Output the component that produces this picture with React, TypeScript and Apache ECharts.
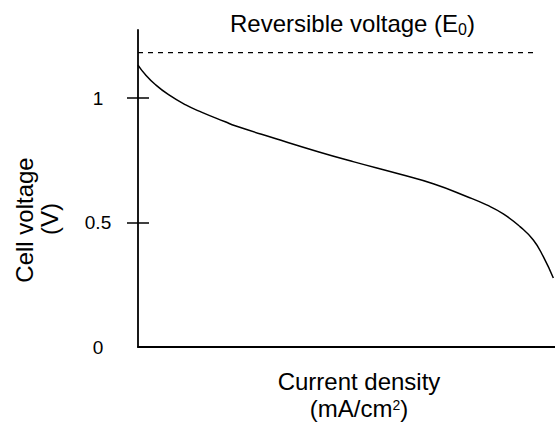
import React, { useEffect, useRef } from "react";
import * as echarts from "echarts";

// Polarization curve (x in % of axis span, y in volts)
const currentDensity = [0, 1.75, 4.15, 7.33, 11.33, 15.34, 20.92, 23.3, 32.9, 43.4, 51.8, 62.9, 70.8, 78.8, 83.6, 87.6, 91.6, 94.8, 97.2, 99.6];
const cellVoltage = [1.133, 1.095, 1.055, 1.014, 0.974, 0.943, 0.905, 0.889, 0.838, 0.784, 0.744, 0.694, 0.656, 0.605, 0.571, 0.535, 0.484, 0.43, 0.363, 0.277];

const reversibleVoltage = 1.183;
const reversibleSpan = [0, 95.7];

const yTickValues = [0.5, 1];
const yLabelValues = [0, 0.5, 1];

const titleText = "Reversible voltage (E{sub|0})";
const xNameLine1 = "Current density";
const xNameLine2 = "(mA/cm{sup|2})";
const yNameLine1 = "Cell voltage";
const yNameLine2 = "(V)";

const FONT = "'Liberation Sans', Arial, Helvetica, sans-serif";

export default function App() {
  const ref = useRef<HTMLDivElement>(null);

  useEffect(() => {
    if (!ref.current) return;
    const chart = echarts.init(ref.current, undefined, { renderer: "svg" });

    const curve = currentDensity.map((x, i) => [x, cellVoltage[i]]);
    const e0 = reversibleSpan.map((x) => [x, reversibleVoltage]);

    const textStyle = (extra: any) => ({
      fontSize: 24,
      fontFamily: FONT,
      fill: "#000",
      lineHeight: 22,
      align: "center",
      verticalAlign: "middle",
      textAlign: "center",
      textVerticalAlign: "middle",
      ...extra,
    });

    chart.setOption({
      animation: false,
      backgroundColor: "#fff",
      grid: {
        left: 138,
        right: 0,
        top: 30,
        bottom: 76,
        containLabel: false,
        outerBoundsMode: "none",
      },
      xAxis: {
        type: "value",
        min: 0,
        max: 100,
        axisLine: { show: true, lineStyle: { color: "#000", width: 1.8 } },
        axisTick: { show: false },
        axisLabel: { show: false },
        splitLine: { show: false },
      },
      yAxis: [
        {
          type: "value",
          position: "left",
          min: 0,
          max: 1.274,
          interval: 0.5,
          axisLine: { show: true, lineStyle: { color: "#000", width: 1.8 } },
          axisTick: {
            show: true,
            inside: false,
            length: 11,
            customValues: yTickValues,
            lineStyle: { color: "#000", width: 1.5 },
          },
          axisLabel: {
            show: true,
            customValues: yLabelValues,
            fontSize: 19,
            fontFamily: FONT,
            color: "#000",
            align: "center",
            margin: 40,
          },
          splitLine: { show: false },
        },
        {
          type: "value",
          position: "left",
          min: 0,
          max: 1.274,
          interval: 0.5,
          axisLine: { show: false },
          axisTick: {
            show: true,
            inside: true,
            length: 11,
            customValues: yTickValues,
            lineStyle: { color: "#000", width: 1.5 },
          },
          axisLabel: { show: false },
          splitLine: { show: false },
        },
      ],
      series: [
        {
          type: "line",
          data: curve,
          yAxisIndex: 0,
          symbol: "none",
          showSymbol: false,
          smooth: true,
          lineStyle: { color: "#000", width: 1.5 },
          silent: true,
        },
        {
          type: "line",
          data: e0,
          yAxisIndex: 0,
          symbol: "none",
          showSymbol: false,
          lineStyle: { color: "#000", width: 1.3, type: [5, 5] },
          silent: true,
        },
      ],
      graphic: [
        {
          type: "text",
          x: 352.5,
          y: 23.4,
          silent: true,
          style: textStyle({
            text: titleText,
            rich: {
              sub: { fontSize: 16, fontFamily: FONT, fill: "#000", lineHeight: 12, padding: [12, 0, 0, 0] },
            },
          }),
        },
        {
          type: "text",
          x: 359,
          y: 381.4,
          silent: true,
          style: textStyle({ text: xNameLine1 }),
        },
        {
          type: "text",
          x: 359,
          y: 408,
          silent: true,
          style: textStyle({
            text: xNameLine2,
            rich: {
              sup: { fontSize: 14, fontFamily: FONT, fill: "#000", lineHeight: 12, padding: [0, 0, 7, 0] },
            },
          }),
        },
        {
          type: "text",
          x: 24.7,
          y: 220,
          rotation: Math.PI / 2,
          silent: true,
          style: textStyle({ text: yNameLine1 }),
        },
        {
          type: "text",
          x: 49,
          y: 219,
          rotation: Math.PI / 2,
          silent: true,
          style: textStyle({ text: yNameLine2 }),
        },
      ],
    });

    return () => chart.dispose();
  }, []);

  return (
    <div
      ref={ref}
      style={{ position: "fixed", left: 0, top: 0, width: 555, height: 423, background: "#fff" }}
    />
  );
}
